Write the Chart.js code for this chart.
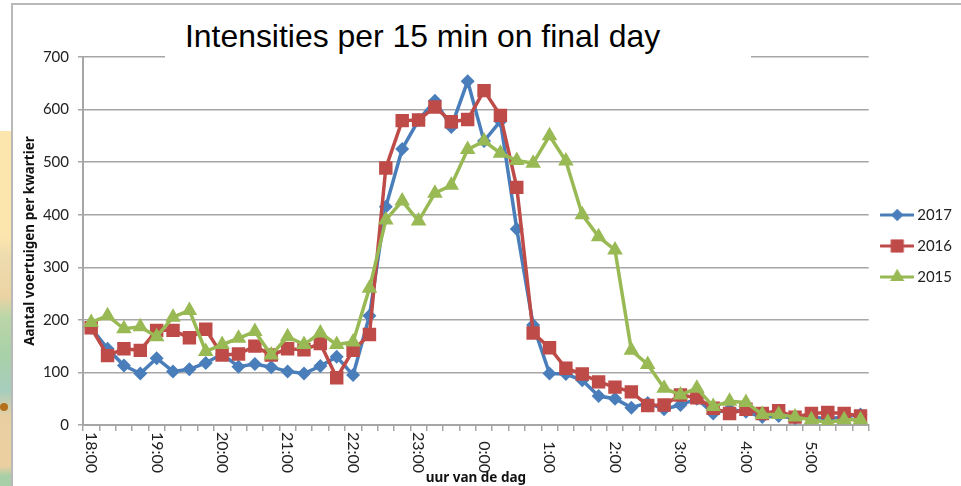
<!DOCTYPE html>
<html>
<head>
<meta charset="utf-8">
<script src="https://cdn.jsdelivr.net/npm/chart.js@4"></script>
<style>
html, body { margin: 0; padding: 0; background: #fff; overflow: hidden; }
#wrap { position: relative; width: 961px; height: 486px; }
#map { position: absolute; left: 0; top: 131px; width: 11px; height: 355px;
  background: linear-gradient(#fde6ae 0, #fde6ae 105px, #eedcae 125px, #ecd3a4 165px, #bcd6a8 185px, #a8d0a8 225px, #a6cdbd 260px, #e8cfa2 285px, #eccfa0 335px, #a8cfa8 345px, #a8cfa8 355px); }
#dot { position: absolute; left: 0; top: 403px; width: 8px; height: 8px; border-radius: 50%; background: #b5701c; }
#frame { position: absolute; left: 11px; top: 3px; width: 950px; height: 483px; border-left: 2px solid #b8b8b8; border-top: 2px solid #b8b8b8; box-sizing: border-box; }
#chart { position: absolute; left: 0; top: 0; }
#title { position: absolute; left: 165px; top: 14px; width: 586px; height: 44px; background: #fff; box-sizing: border-box; padding-left: 20px;
  font: 31.9px "Liberation Sans", Arial, sans-serif; line-height: 44px; color: #000; white-space: nowrap; }
</style>
</head>
<body>
<div id="wrap">
  <div id="map"></div>
  <div id="dot"></div>
  <div id="frame"></div>
  <canvas id="chart" width="961" height="486"></canvas>
  <div id="title">Intensities per 15 min on final day</div>
</div>
<script>
// quarter hours from 18:00 to 5:45
var hours = [18, 19, 20, 21, 22, 23, 0, 1, 2, 3, 4, 5];
var quarters = ['00', '15', '30', '45'];
var categories = [];
hours.forEach(function (h) {
    quarters.forEach(function (q) {
        categories.push(h + ':' + q);
    });
});

var values2017 = [185, 145, 113, 98, 127, 102, 106, 118, 135, 111, 116, 110, 102, 98, 112, 130,
    95, 208, 415, 525, 580, 617, 567, 654, 540, 578, 373, 190, 98, 97, 85, 55,
    50, 33, 42, 30, 38, 50, 22, 30, 25, 15, 17, 13, 15, 12, 15, 20];
var values2016 = [185, 132, 145, 142, 180, 180, 166, 182, 133, 135, 150, 133, 145, 143, 155, 90,
    142, 172, 489, 579, 580, 605, 577, 581, 636, 589, 452, 175, 147, 108, 97, 82,
    72, 63, 37, 38, 57, 52, 32, 22, 30, 22, 27, 15, 22, 24, 22, 17];
var values2015 = [195, 208, 183, 187, 168, 205, 218, 140, 153, 165, 178, 133, 168, 153, 175, 153,
    158, 260, 390, 426, 388, 441, 456, 524, 540, 517, 503, 498, 550, 502, 400, 358,
    333, 142, 115, 70, 57, 70, 35, 45, 43, 20, 20, 15, 10, 5, 10, 10];

var blue = '#4a7ebb', red = '#be4b48', green = '#98b954';
var axisGrey = '#a6a6a6';
var titleFont = { family: 'Noto Sans', size: 13.5, weight: 'bold' };

// legend sample: a short line with the marker on top
function legendSample(color, style, radius) {
    var c = document.createElement('canvas');
    c.width = 34;
    c.height = 20;
    var g = c.getContext('2d');
    g.strokeStyle = color;
    g.lineWidth = 3;
    g.lineCap = 'round';
    g.beginPath();
    g.moveTo(1, 10);
    g.lineTo(33, 10);
    g.stroke();
    g.fillStyle = color;
    Chart.helpers.drawPoint(g, { pointStyle: style, radius: radius, borderWidth: 0, rotation: 0 }, 17, 10);
    g.fill();
    return c;
}

function makeSeries(label, data, color, style, radius, order) {
    return {
        label: label,
        data: data,
        borderColor: color,
        backgroundColor: color,
        borderWidth: 3.5,
        tension: 0,
        pointStyle: style,
        pointRadius: radius,
        pointBorderWidth: 0,
        order: order
    };
}

var samples = {
    '2017': legendSample(blue, 'rectRot', 6),
    '2016': legendSample(red, 'rect', 9),
    '2015': legendSample(green, 'triangle', 8)
};

// nudge the legend down a little, it sits off the plot centre in the original
var legendNudge = {
    id: 'legendNudge',
    afterLayout: function (chart) {
        chart.legend.top += 5;
        chart.legend.bottom += 5;
    }
};

new Chart(document.getElementById('chart'), {
    type: 'line',
    plugins: [legendNudge],
    data: {
        labels: categories,
        datasets: [
            makeSeries('2017', values2017, blue, 'rectRot', 7, 3),
            makeSeries('2016', values2016, red, 'rect', 9.5, 2),
            makeSeries('2015', values2015, green, 'triangle', 9, 1)
        ]
    },
    options: {
        responsive: false,
        animation: false,
        layout: { padding: { left: 22, top: 57, right: -1, bottom: 0 } },
        plugins: {
            tooltip: { enabled: false },
            legend: {
                position: 'right',
                fullSize: false,
                labels: {
                    usePointStyle: true,
                    pointStyleWidth: 25,
                    padding: 16,
                    color: '#222',
                    font: { family: 'Lato', size: 15 },
                    sort: function (a, b) { return a.datasetIndex - b.datasetIndex; },
                    generateLabels: function (chart) {
                        var items = Chart.defaults.plugins.legend.labels.generateLabels(chart);
                        items.forEach(function (item) {
                            item.pointStyle = samples[item.text];
                        });
                        return items;
                    }
                }
            }
        },
        scales: {
            x: {
                offset: true,
                afterFit: function (scale) { scale.height = 61; },
                grid: { offset: true, drawOnChartArea: false, color: axisGrey, tickLength: 6, lineWidth: 1.5 },
                border: { color: axisGrey, width: 2 },
                ticks: {
                    autoSkip: false,
                    minRotation: -90,
                    maxRotation: -90,
                    padding: 42,
                    color: '#222',
                    font: { family: 'Lato', size: 16 },
                    callback: function (value, index) {
                        return index % 4 === 0 ? categories[index] : '';
                    }
                },
                title: {
                    display: true,
                    text: 'uur van de dag',
                    color: '#111',
                    font: titleFont,
                    padding: 0
                }
            },
            y: {
                min: 0,
                max: 700,
                afterFit: function (scale) { scale.width = 61; },
                grid: { color: axisGrey, lineWidth: 1.5, tickLength: 5 },
                border: { color: axisGrey, width: 2 },
                ticks: { stepSize: 100, color: '#222', font: { family: 'Lato', size: 15 }, padding: 9 },
                title: {
                    display: true,
                    text: 'Aantal voertuigen per kwartier',
                    color: '#111',
                    font: titleFont,
                    padding: 0
                }
            }
        }
    }
});
</script>
</body>
</html>
